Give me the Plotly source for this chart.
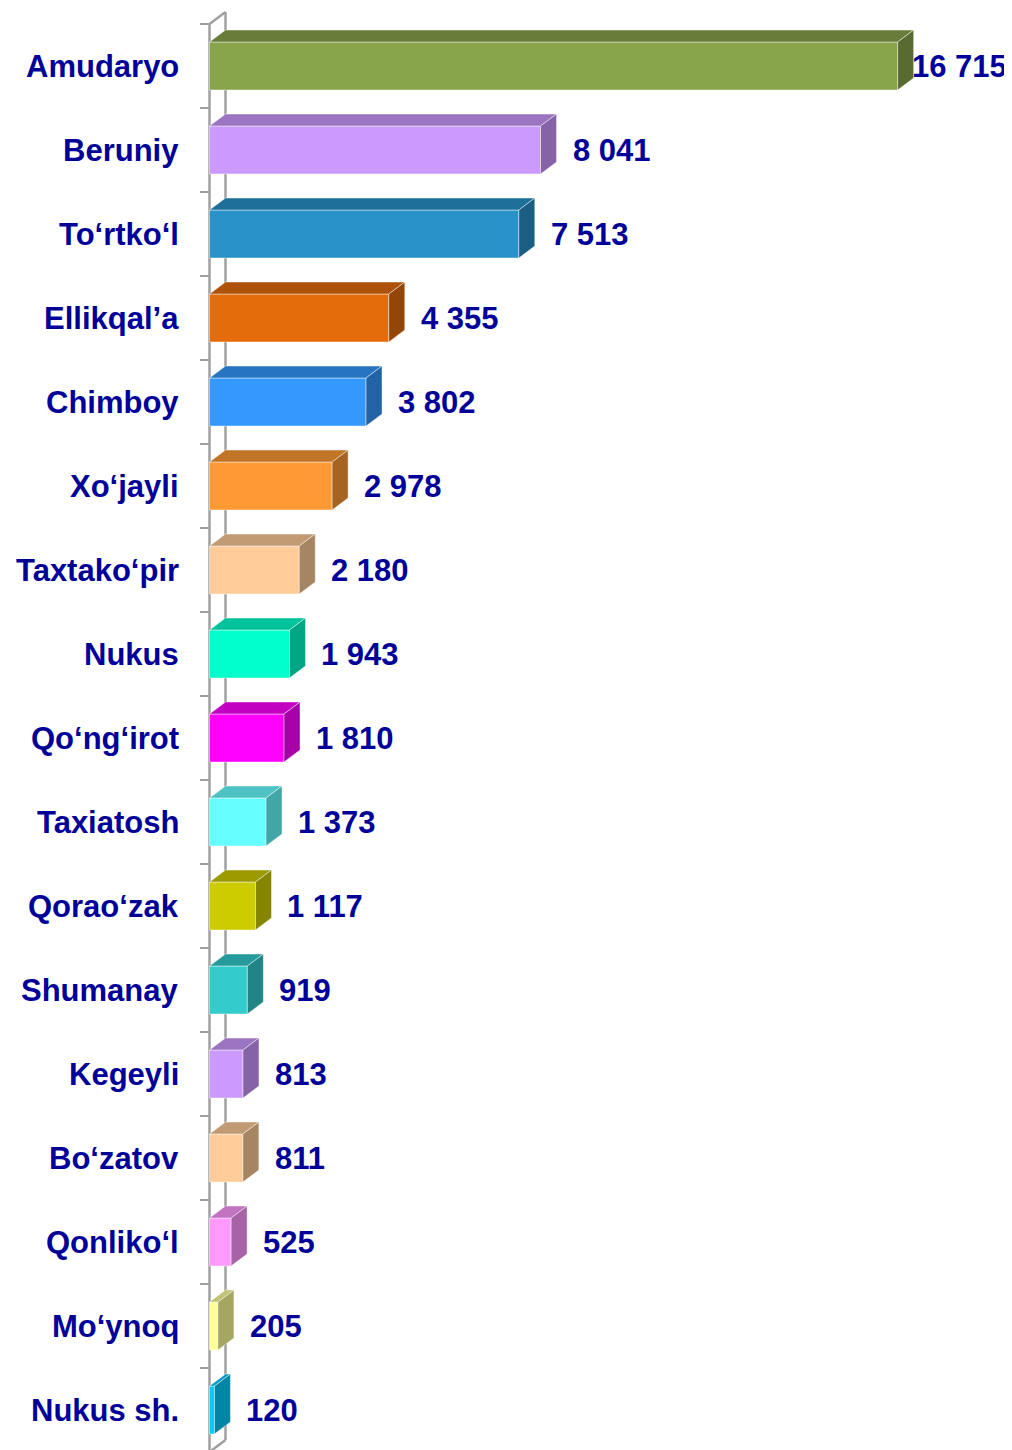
import plotly.graph_objects as go

# ---- data ----
categories = ["Amudaryo", "Beruniy", "To‘rtko‘l", "Ellikqal’a", "Chimboy", "Xo‘jayli",
              "Taxtako‘pir", "Nukus", "Qo‘ng‘irot", "Taxiatosh", "Qorao‘zak", "Shumanay",
              "Kegeyli", "Bo‘zatov", "Qonliko‘l", "Mo‘ynoq", "Nukus sh."]
values = [16715, 8041, 7513, 4355, 3802, 2978, 2180, 1943, 1810, 1373, 1117, 919,
          813, 811, 525, 205, 120]
colors = ["#88A54B", "#CC99FF", "#2892C9", "#E46C0A", "#3399FF", "#FF9933", "#FFCC99",
          "#00FFCC", "#FF00FF", "#66FFFF", "#CCCC00", "#33CCCC", "#CC99FF", "#FFCC99",
          "#FF99FF", "#FFFF99", "#00CCFF"]

# ---- layout constants (pixels, relative to the figure which sits 8px into the page) ----
W, H = 1004, 1442
X0 = 201.5          # pixel of value 0
S = 0.04117         # pixels per unit
Y0 = 16             # pixel of top category boundary
C = 84              # pixels per category
BAR_PX = 48
DXP, DYP = 16, 12   # 3D depth offset in pixels
TEXT = "#000099"
FONT = "Liberation Sans, Arial, sans-serif"
FS = 31

dx = DXP / S
dy = -DYP / C
bw = BAR_PX / C
n = len(categories)


def shade(hexc, f):
    h = hexc.lstrip("#")
    r, g, b = (int(h[i:i + 2], 16) for i in (0, 2, 4))
    return "rgb(%d,%d,%d)" % (round(r * f), round(g * f), round(b * f))


def px2x(p):
    return p / S


shapes = []
wall = dict(color="#A0A0A0", width=2.5)
y_top_b = -0.5
y_bot_b = n - 0.5
# wall: front line, back line, diagonals
shapes.append(dict(type="line", xref="x", yref="y", x0=0, x1=0, y0=y_top_b, y1=y_bot_b + 0.2,
                   line=wall, layer="below"))
shapes.append(dict(type="line", xref="x", yref="y", x0=dx, x1=dx, y0=y_top_b + dy, y1=y_bot_b + dy,
                   line=wall, layer="below"))
shapes.append(dict(type="line", xref="x", yref="y", x0=0, x1=dx, y0=y_top_b, y1=y_top_b + dy,
                   line=wall, layer="below"))
shapes.append(dict(type="line", xref="x", yref="y", x0=0, x1=dx, y0=y_bot_b, y1=y_bot_b + dy,
                   line=wall, layer="below"))
# ticks
for k in range(n + 1):
    yb = k - 0.5
    shapes.append(dict(type="line", xref="x", yref="y", x0=px2x(-9.5), x1=0, y0=yb, y1=yb,
                       line=dict(color="#A0A0A0", width=2), layer="below"))

edge = dict(color="rgba(255,255,255,0.45)", width=1)
for i, (v, c) in enumerate(zip(values, colors)):
    yt = i - bw / 2
    yb = i + bw / 2
    top = "M 0,{a} L {v},{a} L {v2},{b} L {d},{b} Z".format(a=yt, b=yt + dy, v=v, v2=v + dx, d=dx)
    side = "M {v},{a} L {v2},{b} L {v2},{c} L {v},{e} Z".format(a=yt, b=yt + dy, c=yb + dy, e=yb,
                                                                v=v, v2=v + dx)
    shapes.append(dict(type="path", xref="x", yref="y", path=top, fillcolor=shade(c, 0.76),
                       line=edge, layer="above"))
    shapes.append(dict(type="path", xref="x", yref="y", path=side, fillcolor=shade(c, 0.65),
                       line=edge, layer="above"))

fig = go.Figure(go.Bar(
    y=list(range(n)), x=values, orientation="h", width=bw, base=0,
    marker=dict(color=colors, line=dict(color="rgba(255,255,255,0.45)", width=1)),
    hoverinfo="skip",
))

annotations = []
for i, (name, v) in enumerate(zip(categories, values)):
    annotations.append(dict(x=0, y=i, xref="x", yref="y", text="<b>%s</b>" % name,
                            showarrow=False, xanchor="right", yanchor="middle",
                            xshift=-(X0 - 173), font=dict(family=FONT, size=FS, color=TEXT)))
    label = "{:,}".format(v).replace(",", " ")
    est_w = (sum(0.278 if ch == " " else 0.556 for ch in label)) * FS + 3
    side_end = X0 + v * S + DXP
    gap = min(14, W - 4 - est_w - side_end)
    annotations.append(dict(x=v, y=i, xref="x", yref="y", text="<b>%s</b>" % label,
                            showarrow=False, xanchor="left", yanchor="middle",
                            xshift=DXP + gap, font=dict(family=FONT, size=FS, color=TEXT)))

fig.update_layout(
    width=W, height=H, autosize=False,
    margin=dict(l=0, r=0, t=0, b=0),
    paper_bgcolor="white", plot_bgcolor="white",
    showlegend=False,
    shapes=shapes, annotations=annotations,
    xaxis=dict(range=[-X0 / S, (W - X0) / S], visible=False, fixedrange=True),
    yaxis=dict(range=[(H - Y0) / C - 0.5, -0.5 - Y0 / C], visible=False, fixedrange=True),
)

fig.write_html("out.html")
